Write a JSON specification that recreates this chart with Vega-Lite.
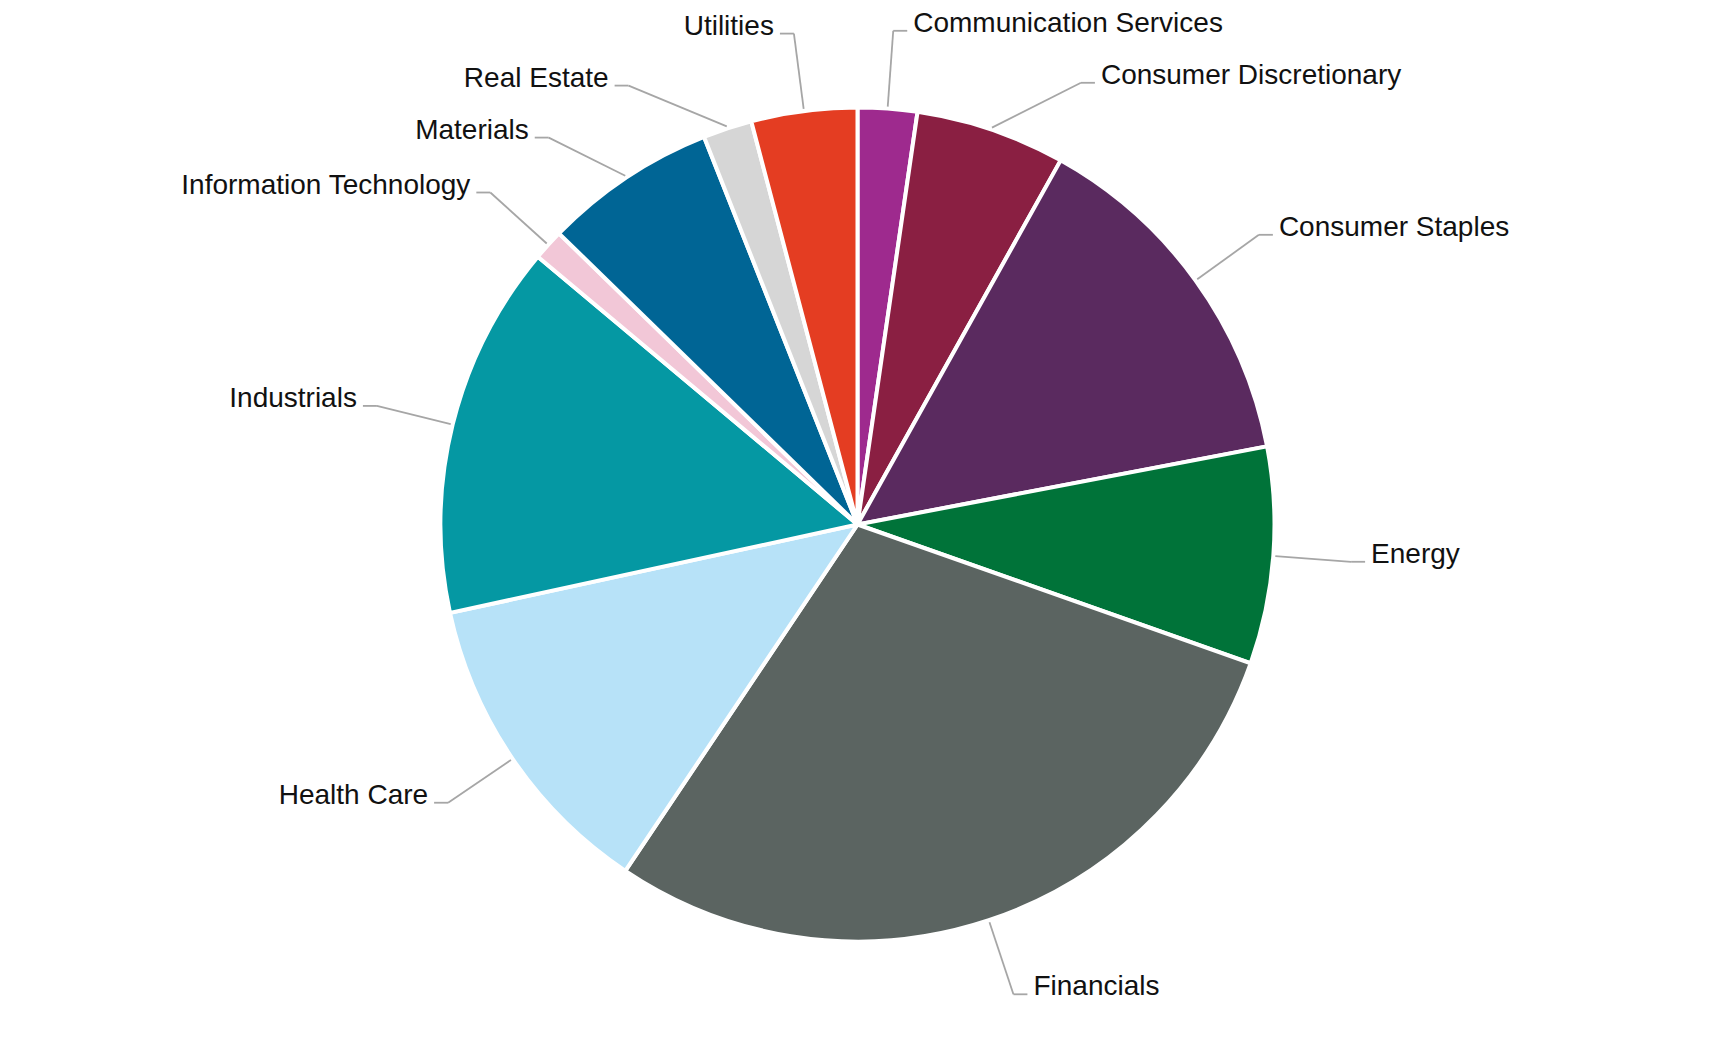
{
  "$schema": "https://vega.github.io/schema/vega-lite/v6.json",
  "autosize": {"type": "fit", "contains": "padding"},
  "width": 1715,
  "height": 1049,
  "padding": 0,
  "background": "white",
  "config": {"view": {"stroke": null}},
  "data": {
    "values": [
      {"sector": "Communication Services", "share": 2.3},
      {"sector": "Consumer Discretionary", "share": 5.8},
      {"sector": "Consumer Staples", "share": 13.9},
      {"sector": "Energy", "share": 8.4},
      {"sector": "Financials", "share": 29.0},
      {"sector": "Health Care", "share": 12.2},
      {"sector": "Industrials", "share": 14.5},
      {"sector": "Information Technology", "share": 1.2},
      {"sector": "Materials", "share": 6.7},
      {"sector": "Real Estate", "share": 1.9},
      {"sector": "Utilities", "share": 4.1}
    ]
  },
  "transform": [
    {"window": [{"op": "sum", "field": "share", "as": "cum"}], "sort": [{"field": "sector", "order": "ascending"}], "frame": [null, 0]},
    {"calculate": "datum.cum - datum.share", "as": "start"},
    {"calculate": "2 * PI * (datum.cum - datum.share / 2) / 100", "as": "a"},
    {"calculate": "datum.a < PI ? 1 : -1", "as": "side"},
    {"calculate": "datum.side == 1 ? datum.a : 2 * PI - datum.a", "as": "ord"},
    {"calculate": "495 * cos(datum.a)", "as": "ny"},
    {"window": [{"op": "row_number", "as": "k"}], "groupby": ["side"], "sort": [{"field": "ord", "order": "ascending"}]},
    {"calculate": "datum.ny + datum.k * 52", "as": "v"},
    {"window": [{"op": "min", "field": "v", "as": "vmin"}], "groupby": ["side"], "sort": [{"field": "ord", "order": "ascending"}], "frame": [null, 0]},
    {"calculate": "datum.vmin - datum.k * 52", "as": "ly"},
    {"calculate": "datum.side * sqrt(max(495 * 495 - datum.ly * datum.ly, 0))", "as": "lx"},
    {"calculate": "419 * sin(datum.a)", "as": "ex"},
    {"calculate": "419 * cos(datum.a)", "as": "ey"},
    {"calculate": "datum.lx + datum.side * 14", "as": "tx"},
    {"calculate": "datum.tx + datum.side * 6", "as": "textx"}
  ],
  "layer": [
    {
      "mark": {"type": "arc", "outerRadius": 417, "stroke": "white", "strokeWidth": 4, "strokeJoin": "miter"},
      "encoding": {
        "theta": {"field": "start", "type": "quantitative", "scale": {"domain": [0, 100]}, "stack": null},
        "theta2": {"field": "cum"},
        "color": {
          "field": "sector",
          "type": "nominal",
          "legend": null,
          "scale": {
            "domain": ["Communication Services", "Consumer Discretionary", "Consumer Staples", "Energy", "Financials", "Health Care", "Industrials", "Information Technology", "Materials", "Real Estate", "Utilities"],
            "range": ["#9E2A8E", "#8A1F42", "#5A2A5F", "#007339", "#5B6461", "#B7E2F8", "#0598A3", "#F2C7D7", "#006595", "#D6D6D6", "#E43D22"]
          }
        }
      }
    },
    {
      "mark": {"type": "rule", "color": "#A6A6A6", "strokeWidth": 1.8},
      "encoding": {
        "x": {"field": "ex", "type": "quantitative", "axis": null, "scale": {"domain": [-857.5, 857.5], "nice": false, "zero": false}},
        "y": {"field": "ey", "type": "quantitative", "axis": null, "scale": {"domain": [-524.5, 524.5], "nice": false, "zero": false}},
        "x2": {"field": "lx"},
        "y2": {"field": "ly"}
      }
    },
    {
      "mark": {"type": "rule", "color": "#A6A6A6", "strokeWidth": 1.8},
      "encoding": {
        "x": {"field": "lx", "type": "quantitative"},
        "y": {"field": "ly", "type": "quantitative"},
        "x2": {"field": "tx"},
        "y2": {"field": "ly"}
      }
    },
    {
      "transform": [{"filter": "datum.side == 1"}],
      "mark": {"type": "text", "align": "left", "baseline": "alphabetic", "dy": 1, "font": "Liberation Sans, Arial, sans-serif", "fontSize": 28, "color": "#111111"},
      "encoding": {
        "x": {"field": "textx", "type": "quantitative"},
        "y": {"field": "ly", "type": "quantitative"},
        "text": {"field": "sector"}
      }
    },
    {
      "transform": [{"filter": "datum.side == -1"}],
      "mark": {"type": "text", "align": "right", "baseline": "alphabetic", "dy": 1, "font": "Liberation Sans, Arial, sans-serif", "fontSize": 28, "color": "#111111"},
      "encoding": {
        "x": {"field": "textx", "type": "quantitative"},
        "y": {"field": "ly", "type": "quantitative"},
        "text": {"field": "sector"}
      }
    }
  ]
}
